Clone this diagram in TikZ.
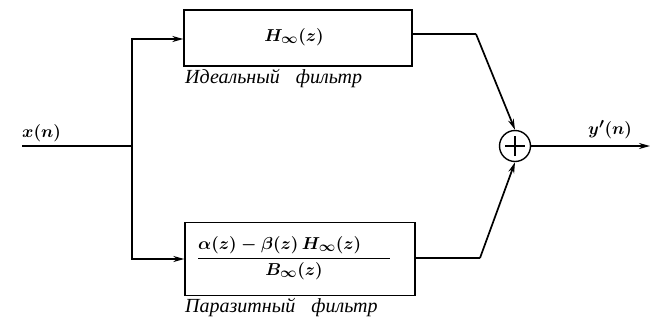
\documentclass[tikz,border=0pt]{standalone}
\usepackage{fontspec}
\setmainfont{Liberation Serif}
\usetikzlibrary{arrows.meta}
\begin{document}
\begin{tikzpicture}[x=1pt,y=-1pt,
  line/.style={line width=1.7pt},
  arr/.style={line width=1.7pt,-{Stealth[length=11pt,width=6pt]}},
  blk/.style={draw,line width=1.4pt,inner sep=0pt},
  mtext/.style={font=\fontsize{19}{22}\selectfont\boldmath},
  captext/.style={font=\fontsize{20}{22}\selectfont\itshape,anchor=north west,inner sep=0pt}]
\useasboundingbox (0,0) rectangle (653,322);
% blocks
\node[blk,minimum width=228pt,minimum height=56pt] (top) at (298,38) {};
\node[mtext] (h) at (294,37) {$H_\infty(z)$};
\node[blk,minimum width=230pt,minimum height=73pt] (bot) at (300,259) {};
\node[mtext] (frac) at (294,258) {$\displaystyle\frac{\alpha(z)-\beta(z)\,H_\infty(z)\hspace{1.5em}}{B_\infty(z)}$};
\node[captext] (c1) at (185,69) {Идеальный\hspace{16pt}фильтр};
\node[captext] (c2) at (185,298) {Паразитный\hspace{16pt}фильтр};
% summer
\node[draw,circle,line width=1.4pt,minimum size=31pt,inner sep=0pt] (sum) at (515,146) {};
\draw[line width=1.2pt] ([yshift=-10pt]sum.center) -- ([yshift=10pt]sum.center)
  ([xshift=-10pt]sum.center) -- ([xshift=10pt]sum.center);
% coordinates
\coordinate (in) at (22,146);
\coordinate (br) at (132,146);
\coordinate (tk) at (476,34);
\coordinate (bk) at (480,258);
\coordinate (out) at (650,146);
% connectors
\draw[line] (in) -- (br);
\draw[arr] (br) |- (top.west |- 0,39);
\draw[arr] (br) |- (bot.west);
\draw[line] (top.east |- 0,34) -- (tk);
\draw[arr] (tk) -- (sum.north);
\draw[line] (bot.east |- 0,258) -- (bk);
\draw[arr] (bk) -- (sum.south);
\draw[arr] (sum.east) -- (out);
% labels
\node[mtext,anchor=south west,inner sep=1pt] (xl) at (21,143) {$x(n)$};
\node[mtext,anchor=south west,inner sep=1pt] (yl) at (587,140) {$y'(n)$};
\end{tikzpicture}
\end{document}
